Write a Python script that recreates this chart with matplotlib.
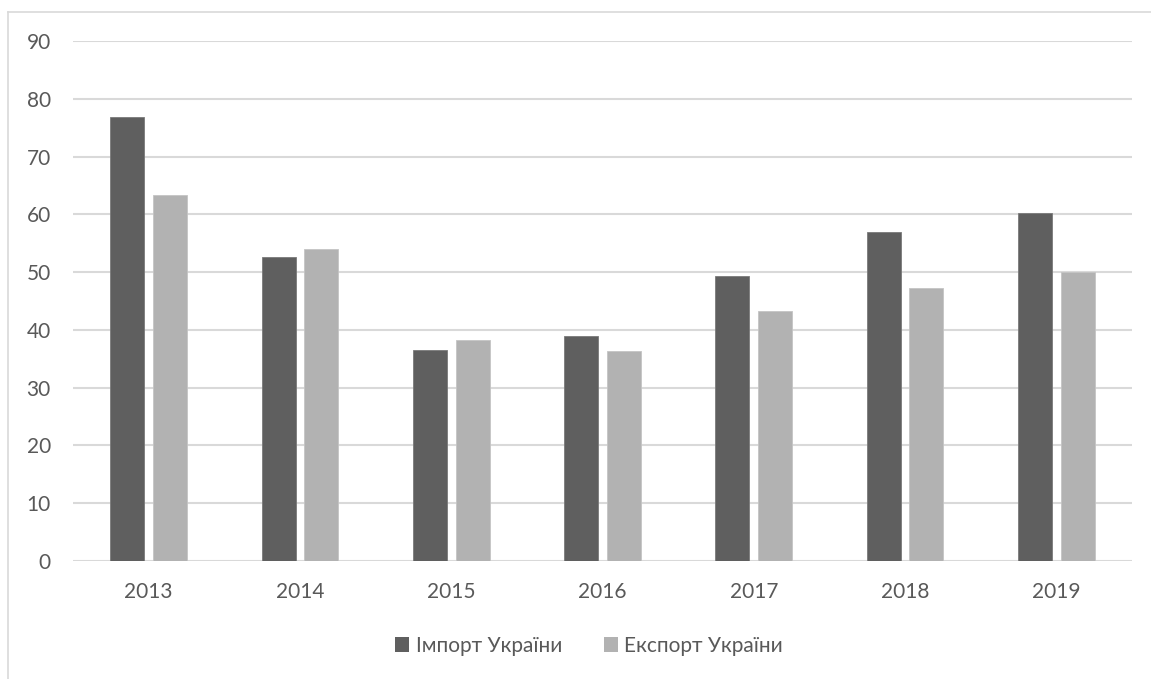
import matplotlib.pyplot as plt
from matplotlib.lines import Line2D
from matplotlib.patches import Patch
import numpy as np

plt.rcParams['font.family'] = ['Lato', 'DejaVu Sans']

years = ['2013', '2014', '2015', '2016', '2017', '2018', '2019']
imports = [76.9, 52.6, 36.6, 38.9, 49.4, 56.9, 60.3]
exports = [63.3, 54.0, 38.2, 36.3, 43.3, 47.2, 50.0]
series_names = ['Імпорт України', 'Експорт України']
y_ticks = [0, 10, 20, 30, 40, 50, 60, 70, 80, 90]

c_import = '#5f5f5f'
c_export = '#b2b2b2'
c_grid = '#d9d9d9'
c_text = '#595959'

W, H = 1151, 679
fig = plt.figure(figsize=(W / 100, H / 100), dpi=100)
ax = fig.add_axes([73 / W, 1 - 561 / H, (1132 - 73) / W, (561 - 41) / H])

x = np.arange(len(years))
bw = 0.225
off = 0.141
ax.bar(x - off, imports, bw, color=c_import, edgecolor='#7a7a7a', linewidth=0.6, zorder=3)
ax.bar(x + off, exports, bw, color=c_export, edgecolor='#c4c4c4', linewidth=0.6, zorder=3)

ax.set_xlim(-0.5, len(years) - 0.5)
ax.set_ylim(0, 90)
ax.set_yticks(y_ticks)
ax.set_xticks(x)
ax.set_xticklabels(years)
ax.tick_params(axis='both', length=0, labelsize=15, colors=c_text)
ax.tick_params(axis='y', pad=16)
ax.tick_params(axis='x', pad=15)
ax.grid(axis='y', color=c_grid, linewidth=1.5, zorder=0)
for s in ax.spines.values():
    s.set_visible(False)

# outer chart frame
fig.add_artist(Line2D([8 / W, 8 / W], [0, 1 - 12 / H], transform=fig.transFigure,
                      color=c_grid, linewidth=1.2))
fig.add_artist(Line2D([8 / W, 1], [1 - 12 / H, 1 - 12 / H], transform=fig.transFigure,
                      color=c_grid, linewidth=1.2))

handles = [Patch(facecolor=c_import), Patch(facecolor=c_export)]
fig.legend(handles, series_names, loc='center', bbox_to_anchor=(589 / W, 1 - 646 / H),
           ncol=2, frameon=False, fontsize=15, labelcolor=c_text,
           handlelength=0.7, handleheight=0.7, handletextpad=0.3, columnspacing=2.0)

fig.savefig('out.png', dpi=100, facecolor='white')
